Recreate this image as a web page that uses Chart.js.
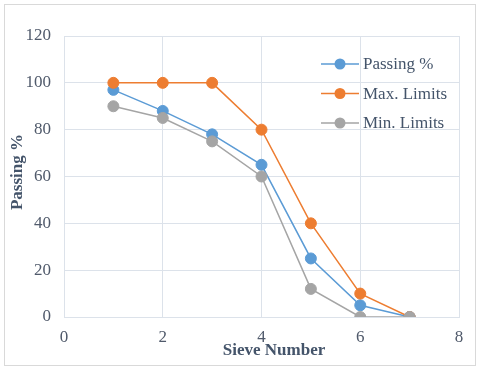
<!DOCTYPE html>
<html>
<head>
<meta charset="utf-8">
<script src="https://cdn.jsdelivr.net/npm/chart.js@4"></script>
<style>
  html, body { margin: 0; padding: 0; background: #fff; }
  #wrap { position: relative; width: 480px; height: 369px; }
</style>
</head>
<body>
<div id="wrap"><canvas id="chart" width="480" height="369"></canvas></div>
<script>
// curva granulométrica — passante x limites

const sieveNumbers = [1, 2, 3, 4, 5, 6, 7];
const passing      = [97, 88, 78, 65, 25, 5, 0];
const maxLimits    = [100, 100, 100, 80, 40, 10, 0];
const minLimits    = [90, 85, 75, 60, 12, 0, 0];
const seriesNames  = ['Passing %', 'Max. Limits', 'Min. Limits'];

const COLORS = {
  blue:   '#5B9BD5',
  orange: '#ED7D31',
  gray:   '#A5A5A5',
  grid:   '#DCE2EA',
  text:   '#44546A',
  tick:   '#505A6B',
};
const FONT = "'Liberation Serif', 'Times New Roman', serif";

Chart.defaults.font.family = FONT;
Chart.defaults.animation = false;

const toPoints = vals => sieveNumbers.map((x, i) => ({ x, y: vals[i] }));

function ds(label, vals, color, order) {
  return {
    label, data: toPoints(vals), order,
    borderColor: color, backgroundColor: color,
    pointBackgroundColor: color, pointBorderColor: color,
    borderWidth: 1.5, pointRadius: 5.5, pointBorderWidth: 1,
    tension: 0,
  };
}

// legenda dentro da área do gráfico + títulos dos eixos + moldura
const decor = {
  id: 'decor',
  beforeDraw(chart) {
    const c = chart.ctx;
    c.save();
    c.strokeStyle = '#D9D9D9';
    c.lineWidth = 1;
    c.strokeRect(4.5, 4.5, 471, 361);
    c.restore();
  },
  afterDraw(chart) {
    const c = chart.ctx;
    const colors = [COLORS.blue, COLORS.orange, COLORS.gray];
    c.save();
    c.font = '17px ' + FONT;
    c.textBaseline = 'middle';
    c.textAlign = 'left';
    seriesNames.forEach((name, i) => {
      const y = 64 + i * 29.5;
      c.strokeStyle = colors[i];
      c.lineWidth = 1.5;
      c.beginPath(); c.moveTo(321, y); c.lineTo(359, y); c.stroke();
      c.fillStyle = colors[i];
      c.beginPath(); c.arc(340, y, 5.5, 0, Math.PI * 2); c.fill();
      c.fillStyle = COLORS.text;
      c.fillText(name, 363, y + 1);
    });
    c.font = 'bold 17px ' + FONT;
    c.textAlign = 'center';
    c.fillText('Sieve Number', 274, 351);
    c.translate(18, 172);
    c.rotate(-Math.PI / 2);
    c.fillText('Passing %', 0, 0);
    c.restore();
  }
};

new Chart(document.getElementById('chart'), {
  type: 'line',
  data: {
    datasets: [
      ds(seriesNames[0], passing,   COLORS.blue,   3),
      ds(seriesNames[1], maxLimits, COLORS.orange, 2),
      ds(seriesNames[2], minLimits, COLORS.gray,   1),
    ]
  },
  options: {
    responsive: false,
    devicePixelRatio: 1,
    layout: { padding: { left: 0, top: 36, right: 21, bottom: 0 } },
    plugins: { legend: { display: false }, tooltip: { enabled: false } },
    scales: {
      x: {
        type: 'linear', min: 0, max: 8,
        ticks: { stepSize: 2, color: COLORS.tick, font: { size: 17 }, padding: 10, maxRotation: 0 },
        grid: { color: COLORS.grid, drawTicks: false },
        border: { color: COLORS.grid },
        afterFit: s => { s.height = 52; },
      },
      y: {
        min: 0, max: 120,
        ticks: { stepSize: 20, color: COLORS.tick, font: { size: 17 }, padding: 13 },
        grid: { color: COLORS.grid, drawTicks: false },
        border: { color: COLORS.grid },
        afterFit: s => { s.width = 64; },
      }
    }
  },
  plugins: [decor]
});
</script>
</body>
</html>
